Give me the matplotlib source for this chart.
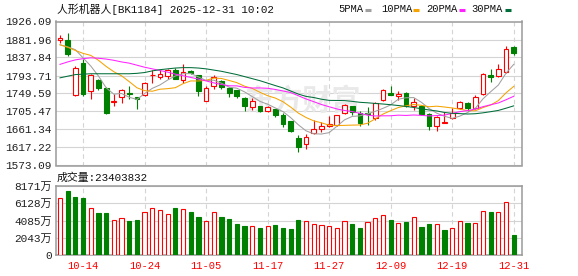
import matplotlib
matplotlib.use("Agg")
import matplotlib.pyplot as plt
from matplotlib.lines import Line2D
import numpy as np

plt.rcParams['font.family'] = ['Liberation Mono', 'Noto Sans CJK SC']

# ---- data ----
dates = ['10-09', '10-10', '10-13', '10-14', '10-15', '10-16', '10-17', '10-20', '10-21', '10-22',
         '10-23', '10-24', '10-27', '10-28', '10-29', '10-30', '10-31', '11-03', '11-04', '11-05',
         '11-06', '11-07', '11-10', '11-11', '11-12', '11-13', '11-14', '11-17', '11-18', '11-19',
         '11-20', '11-21', '11-24', '11-25', '11-26', '11-27', '11-28', '12-01', '12-02', '12-03',
         '12-04', '12-05', '12-08', '12-09', '12-10', '12-11', '12-12', '12-15', '12-16', '12-17',
         '12-18', '12-19', '12-22', '12-23', '12-24', '12-25', '12-26', '12-29', '12-30', '12-31']

opens = [1881, 1881, 1745, 1825, 1755, 1783, 1763, 1729.5, 1740, 1751,
         1741, 1746, 1794, 1791, 1792, 1808, 1783, 1804, 1794, 1731,
         1768, 1780, 1764, 1757, 1739, 1716, 1718, 1706, 1711, 1697,
         1682, 1640, 1625, 1652, 1663, 1669, 1672, 1701, 1718, 1701,
         1703, 1689, 1733, 1750, 1743, 1752, 1720, 1720, 1700, 1670,
         1678, 1689, 1713, 1726, 1713, 1748, 1796, 1792, 1802, 1864]
closes = [1886, 1846, 1811, 1748, 1794, 1763, 1702.5, 1732, 1757, 1748,
          1735, 1775, 1796, 1798, 1808, 1786, 1802, 1799, 1756, 1764,
          1790, 1765, 1750, 1744, 1719, 1732, 1706, 1716, 1698, 1674,
          1658, 1618, 1642, 1662, 1671, 1675, 1696, 1721, 1704, 1678,
          1700, 1726, 1758, 1746, 1748, 1718, 1728, 1700, 1669, 1692,
          1680, 1702, 1728, 1713, 1742, 1797, 1789, 1810, 1859, 1850]
highs = [1893, 1897, 1817, 1833, 1797, 1784, 1766, 1748, 1761, 1769,
         1742, 1779, 1808, 1806, 1810, 1813, 1823, 1807, 1796, 1768,
         1795, 1782, 1765, 1759, 1740, 1738, 1719, 1718, 1712, 1701,
         1683, 1649, 1651, 1685, 1680, 1694, 1697, 1723, 1719, 1706,
         1716, 1729, 1761, 1767, 1756, 1753, 1738, 1721, 1701, 1694,
         1705, 1713, 1732, 1728, 1745, 1800, 1809, 1821, 1867, 1865]
lows = [1873, 1842, 1743, 1743, 1735, 1757, 1700, 1720, 1727, 1737,
        1712, 1743, 1776, 1785, 1786, 1785, 1776, 1797, 1744, 1730,
        1760, 1760, 1742, 1739, 1707, 1709, 1705, 1705, 1693, 1668,
        1656, 1606, 1613, 1651, 1656, 1668, 1670, 1699, 1697, 1671,
        1673, 1685, 1732, 1745, 1733, 1717, 1708, 1696, 1661, 1658,
        1677, 1688, 1711, 1707, 1711, 1746, 1777, 1789, 1801, 1843]

ma5 = [1869, 1864, 1857, 1837, 1817, 1792.4, 1763.7, 1747.9, 1749.7, 1740.5,
       1734.9, 1749.4, 1762.2, 1770.6, 1782.6, 1792.6, 1798, 1798.6, 1790.2, 1781.4,
       1782.2, 1774.8, 1765, 1762.6, 1753.6, 1742, 1730.2, 1723.4, 1714.2, 1705.2,
       1690.4, 1672.8, 1658, 1650.8, 1650.2, 1653.6, 1669.2, 1685, 1693.4, 1694.8,
       1699.8, 1705.8, 1713.2, 1721.6, 1735.6, 1739.2, 1739.6, 1728, 1712.6, 1701.4,
       1693.8, 1688.6, 1694.2, 1703, 1713, 1736.4, 1753.8, 1770.2, 1799.4, 1821]
ma10 = [1869, 1863, 1855, 1848, 1843, 1831, 1816, 1803, 1793, 1778.8,
        1763.7, 1756.6, 1755.1, 1760.1, 1761.5, 1763.8, 1773.7, 1780.4, 1780.3, 1781.9,
        1787.4, 1786.4, 1781.5, 1776.2, 1767.5, 1762.1, 1752.5, 1744.2, 1738.4, 1729.4,
        1716.2, 1701.5, 1690.7, 1682.5, 1677.7, 1672, 1671, 1671.5, 1672.1, 1672.5,
        1676.7, 1687.5, 1699.1, 1707.5, 1715.2, 1719.5, 1722.7, 1720.6, 1717.1, 1718.5,
        1716.5, 1714.1, 1711.1, 1707.8, 1707.2, 1715.1, 1721.2, 1732.2, 1751.2, 1767]
ma20 = [1821, 1827, 1832, 1835, 1837, 1836, 1834, 1831, 1827, 1824,
        1819, 1814, 1810, 1806, 1802, 1797, 1793, 1789, 1785, 1780.4,
        1775.6, 1771.6, 1768.5, 1768.3, 1764.6, 1763, 1763.2, 1762.4, 1759.5, 1755.8,
        1751.9, 1744.1, 1736.2, 1729.5, 1722.6, 1717.1, 1711.8, 1707.9, 1705.3, 1701,
        1696.5, 1694.5, 1694.9, 1695, 1696.5, 1695.8, 1696.9, 1696, 1694.6, 1695.5,
        1696.6, 1700.8, 1705.1, 1707.7, 1711.2, 1717.3, 1722, 1726.4, 1734.2, 1742.8]
ma30 = [1788, 1792, 1796, 1797, 1798, 1798, 1798, 1798, 1798, 1798,
        1799, 1801, 1805, 1808, 1810, 1812, 1813, 1813, 1812, 1810,
        1807, 1804, 1800, 1796, 1791, 1786, 1781, 1775, 1769, 1763.3,
        1755.7, 1748.1, 1742.5, 1739.7, 1735.6, 1732.7, 1732.5, 1732.1, 1730.3, 1728,
        1726.8, 1725.2, 1723.8, 1722.1, 1720.1, 1717.9, 1715.4, 1712.1, 1709.2, 1706.8,
        1703.1, 1701, 1700.3, 1699.3, 1700, 1702.2, 1705, 1708.1, 1713.5, 1719.3]

# volume in 万
volume = [6710, 7578, 6868, 6750, 5526, 4973, 4973, 4144, 4342, 4026,
          4144, 5092, 5526, 5289, 4815, 5565, 5407, 5092, 4500, 4026,
          5052, 4500, 4263, 3671, 3434, 3394, 3197, 3394, 3552, 3197,
          3079, 4144, 3987, 3631, 3513, 3394, 3158, 3987, 3671, 3197,
          3868, 4342, 4697, 4144, 3750, 3908, 4460, 3316, 3671, 3631,
          2960, 3158, 3987, 3789, 3750, 5210, 5131, 5092, 6276, 2340]

price_ticks = [1573.09, 1617.22, 1661.34, 1705.47, 1749.59, 1793.71, 1837.84, 1881.96, 1926.09]
vol_ticks = [0, 2043, 4085, 6128, 8171]
vol_labels = ['0', '2043万', '4085万', '6128万', '8171万']
date_ticks = [3, 11, 19, 27, 35, 43, 51, 59]

title = '人形机器人[BK1184] 2025-12-31 10:02'
vol_title = '成交量:23403832'
ma_names = ['5PMA', '10PMA', '20PMA', '30PMA']

RED = '#ff0000'
GREEN = '#008000'
ma_colors = ['#a0a0a0', '#f5a300', '#ff22ff', '#006e3a']
GRID = '#d4d4d4'
SPINE = '#9a9a9a'

W, H = 578, 276
fig = plt.figure(figsize=(W / 100, H / 100), dpi=100)
ax = fig.add_axes([56 / W, 1 - 165.5 / H, 466 / W, 144 / H])
axv = fig.add_axes([56 / W, 1 - 255 / H, 466 / W, 69 / H])

x = np.arange(len(closes))
o = np.array(opens); c = np.array(closes); hi = np.array(highs); lo = np.array(lows)
up = c > o
col = np.where(up, RED, GREEN)
face = np.where(up, 'white', GREEN)

# candles
ax.vlines(x, lo, hi, colors=col, lw=0.8, zorder=3)
ax.bar(x, np.maximum(np.abs(c - o), 0.9), bottom=np.minimum(o, c), width=0.62,
       color=face, edgecolor=col, linewidth=0.8, zorder=4)

for ma, mc in zip([ma5, ma10, ma20, ma30], ma_colors):
    ax.plot(x, ma, color=mc, lw=0.75, zorder=5)

# volume bars coloured by change versus previous close
vup = np.concatenate([[True], c[1:] >= c[:-1]])
vcol = np.where(vup, RED, GREEN)
vface = np.where(vup, 'white', GREEN)
axv.bar(x, volume, width=0.55, color=vface, edgecolor=vcol, linewidth=0.8, zorder=3)

# watermark
ax.text(0.53, 0.45, '东方财富', transform=ax.transAxes, ha='center', va='center',
        fontsize=21, color='#e9e9e9', family=['Noto Sans CJK SC'], fontweight='bold', zorder=1)

for a in (ax, axv):
    a.set_xlim(-0.52, 60.08)
    a.grid(axis='y', color=GRID, lw=0.8)
    for t in date_ticks:
        a.axvline(t, color=GRID, lw=0.8, ls=(0, (4, 3)), zorder=0)
    for s in a.spines.values():
        s.set_color(SPINE)
        s.set_linewidth(1.1)
    a.set_axisbelow(True)
    a.tick_params(length=0, labelsize=8, colors='#222222', pad=3)

ax.set_ylim(price_ticks[0], price_ticks[-1])
ax.set_yticks(price_ticks)
ax.set_yticklabels(['%.2f' % v for v in price_ticks])
ax.set_xticks([])

axv.set_ylim(0, 8171)
axv.set_yticks(vol_ticks)
axv.set_yticklabels(vol_labels)
axv.set_xticks(date_ticks)
axv.set_xticklabels([dates[i] for i in date_ticks], color=RED, fontsize=7.6)
axv.tick_params(axis='x', pad=4, colors=RED)

fig.text(57 / W, 1 - 9 / H, title, ha='left', va='center', fontsize=7.8, color='#111111')
fig.text(57 / W, 1 - 178 / H, vol_title, ha='left', va='center', fontsize=7.8, color='#111111')

# legend
leg_text_x = [338, 381, 426, 471]
leg_dash_x = [365, 413, 459, 505]
for name, mc, tx, dx in zip(ma_names, ma_colors, leg_text_x, leg_dash_x):
    fig.text(tx / W, 1 - 9 / H, name, ha='left', va='center', fontsize=7.6, color='#111111')
    fig.add_artist(Line2D([dx / W, (dx + 6) / W], [1 - 10 / H, 1 - 10 / H],
                          transform=fig.transFigure, color=mc, lw=2.2, solid_capstyle='butt'))

fig.savefig('out.png', dpi=100)
